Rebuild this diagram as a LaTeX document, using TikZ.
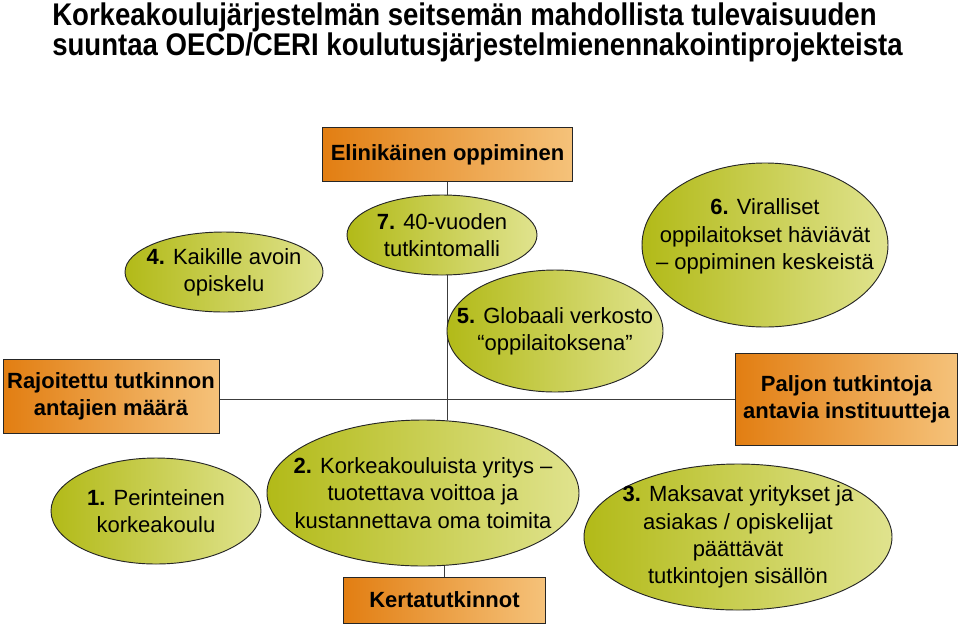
\documentclass[tikz,border=0pt]{standalone}
\usepackage{fontspec}
\setmainfont{Liberation Sans}
\newfontfamily\titlefont[FakeStretch=0.88]{Liberation Sans}
\usetikzlibrary{shapes.geometric,backgrounds}

\definecolor{boxleft}{RGB}{226,126,18}
\definecolor{boxright}{RGB}{245,194,122}
\definecolor{ovalleft}{RGB}{178,186,24}
\definecolor{ovalright}{RGB}{224,227,142}
\definecolor{linegray}{RGB}{60,60,60}

\begin{document}
\begin{tikzpicture}[x=0.75pt, y=-0.75pt,
    box/.style={draw=black!85, line width=0.7pt, left color=boxleft, right color=boxright,
        inner sep=0pt, align=center, font=\bfseries\fontsize{16.5}{20}\selectfont},
    oval/.style={ellipse, draw=black!85, line width=0.7pt, left color=ovalleft, right color=ovalright,
        inner sep=-30pt, align=center, font=\fontsize{16.5}{20.5}\selectfont},
    axis/.style={draw=linegray, line width=1.1pt}]
    \useasboundingbox (0,0) rectangle (960,626);
    % title
    \node[anchor=north west, inner sep=0pt, align=left, font=\titlefont\bfseries\fontsize{23.5}{22}\selectfont] (title) at (52,3)
        {Korkeakoulujärjestelmän seitsemän mahdollista tulevaisuuden\\suuntaa OECD/CERI koulutusjärjestelmienennakointiprojekteista};
    % boxes
    \node[box, minimum width=188pt, minimum height=40pt] (life) at (447.5,154.5) {Elinikäinen oppiminen};
    \node[box, minimum width=162pt, minimum height=55pt] (few) at (111,396.5) {Rajoitettu tutkinnon\\antajien määrä};
    \node[box, minimum width=166.5pt, minimum height=69pt] (many) at (846.5,399.5) {Paljon tutkintoja\\antavia instituutteja};
    \node[box, minimum width=152pt, minimum height=34.5pt] (repeat) at (444.5,600) {Kertatutkinnot};
    % scenarios
    \node[oval, minimum width=148.5pt, minimum height=60pt] (s4) at (224,272) {\textbf{4.} Kaikille avoin\\opiskelu};
    \node[oval, minimum width=142.5pt, minimum height=60pt] (s7) at (442,235) {\textbf{7.} 40-vuoden\\tutkintomalli};
    \node[oval, minimum width=162pt, minimum height=91.5pt] (s5) at (555,331) {\textbf{5.} Globaali verkosto\\“oppilaitoksena”};
    \node[oval, minimum width=184.5pt, minimum height=123pt] (s6) at (765,245)
        {\raisebox{2pt}[0pt][0pt]{\begin{tabular}{@{}c@{}}\textbf{6.} Viralliset\\oppilaitokset häviävät\\– oppiminen keskeistä\end{tabular}}};
    \node[oval, minimum width=157.5pt, minimum height=79.5pt] (s1) at (156,511) {\textbf{1.} Perinteinen\\korkeakoulu};
    \node[oval, minimum width=234pt, minimum height=109.5pt] (s2) at (423,493) {\textbf{2.} Korkeakouluista yritys –\\tuotettava voittoa ja\\kustannettava oma toimita};
    \node[oval, minimum width=231pt, minimum height=109.5pt] (s3) at (738,537) {\textbf{3.} Maksavat yritykset ja\\asiakas / opiskelijat\\päättävät\\tutkintojen sisällön};
    % axes
    \begin{pgfonlayer}{background}
        \draw[axis] (life.south) -- (life.south |- s2.north);
        \draw[axis] (many.west) -- (many.west -| few.east);
        \draw[axis] (repeat.north) -- (repeat.north |- s2.south);
    \end{pgfonlayer}
\end{tikzpicture}
\end{document}
